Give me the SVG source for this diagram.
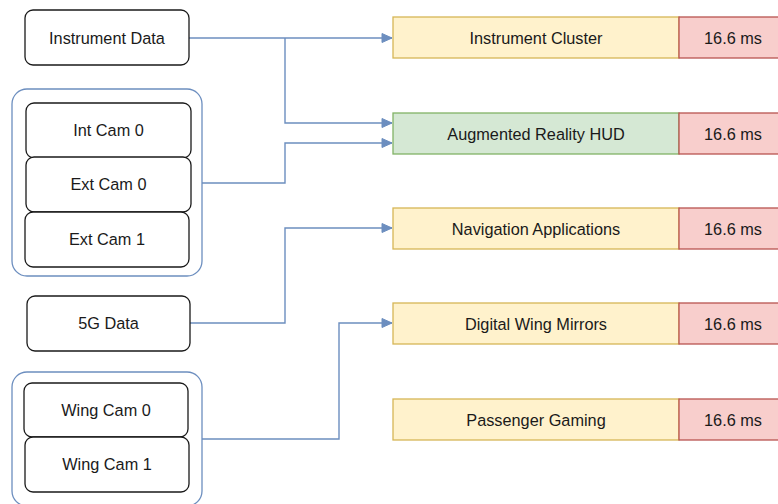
<svg xmlns="http://www.w3.org/2000/svg" width="778" height="504" viewBox="0 0 778 504">
<style>
text{font-family:"Liberation Sans",Arial,Helvetica,sans-serif;font-size:16.3px;fill:#1a1a1a;text-anchor:middle}
.src{fill:#fff;stroke:#1a1a1a;stroke-width:1.3}
.grp{fill:none;stroke:#6c8ebf;stroke-width:1.3}
.y{fill:#fff2cc;stroke:#d6b656;stroke-width:1.3}
.g{fill:#d5e8d4;stroke:#82b366;stroke-width:1.3}
.r{fill:#f8cecc;stroke:#b85450;stroke-width:1.3}
.c{fill:none;stroke:#6c8ebf;stroke-width:1.4;marker-end:url(#ah)}
.cn{fill:none;stroke:#6c8ebf;stroke-width:1.4}
</style>
<defs>
<marker id="ah" markerUnits="userSpaceOnUse" markerWidth="12" markerHeight="12" viewBox="0 0 12 12" refX="11" refY="6" orient="auto">
<path d="M1,1.5 L11,6 L1,10.5 Z" fill="#6c8ebf" stroke="#6c8ebf" stroke-width="1"/>
</marker>
</defs>
<g id="connectors">
<path class="c" d="M189,38 H392"/>
<path class="c" d="M285,38 V123 H392"/>
<path class="c" d="M202,183 H285 V143 H392"/>
<path class="c" d="M190,323 H285 V228 H392"/>
<path class="c" d="M202,439 H339 V323 H392"/>
</g>
<g id="instrument-data"><rect class="src" x="25" y="10" width="164" height="55" rx="8"/><text x="107" y="43.5">Instrument Data</text></g>
<g id="cam-group"><rect class="grp" x="12" y="89" width="190" height="187" rx="15"/></g>
<g id="int-cam-0"><rect class="src" x="26" y="103" width="165" height="55" rx="8"/><text x="108.5" y="136">Int Cam 0</text></g>
<g id="ext-cam-0"><rect class="src" x="26" y="157" width="165" height="55" rx="8"/><text x="108.5" y="190">Ext Cam 0</text></g>
<g id="ext-cam-1"><rect class="src" x="25" y="212" width="164" height="55" rx="8"/><text x="107" y="245">Ext Cam 1</text></g>
<g id="5g-data"><rect class="src" x="27" y="296" width="163" height="55" rx="8"/><text x="108.5" y="329">5G Data</text></g>
<g id="wing-group"><rect class="grp" x="12" y="372" width="190" height="134" rx="15"/></g>
<g id="wing-cam-0"><rect class="src" x="24" y="383" width="164" height="54" rx="8"/><text x="106" y="416">Wing Cam 0</text></g>
<g id="wing-cam-1"><rect class="src" x="25" y="437" width="164" height="55" rx="8"/><text x="107" y="470">Wing Cam 1</text></g>
<g id="instrument-cluster"><rect class="y" x="393" y="17" width="286" height="41"/><text x="536" y="43.5">Instrument Cluster</text><rect class="r" x="679" y="17" width="108" height="41"/><text x="733" y="43.5">16.6 ms</text></g>
<g id="ar-hud"><rect class="g" x="393" y="113" width="286" height="41"/><text x="536" y="139.5">Augmented Reality HUD</text><rect class="r" x="679" y="113" width="108" height="41"/><text x="733" y="139.5">16.6 ms</text></g>
<g id="navigation"><rect class="y" x="393" y="208" width="286" height="41"/><text x="536" y="234.5">Navigation Applications</text><rect class="r" x="679" y="208" width="108" height="41"/><text x="733" y="234.5">16.6 ms</text></g>
<g id="wing-mirrors"><rect class="y" x="393" y="303" width="286" height="41"/><text x="536" y="329.5">Digital Wing Mirrors</text><rect class="r" x="679" y="303" width="108" height="41"/><text x="733" y="329.5">16.6 ms</text></g>
<g id="passenger-gaming"><rect class="y" x="393" y="399" width="286" height="41"/><text x="536" y="425.5">Passenger Gaming</text><rect class="r" x="679" y="399" width="108" height="41"/><text x="733" y="425.5">16.6 ms</text></g>
</svg>
